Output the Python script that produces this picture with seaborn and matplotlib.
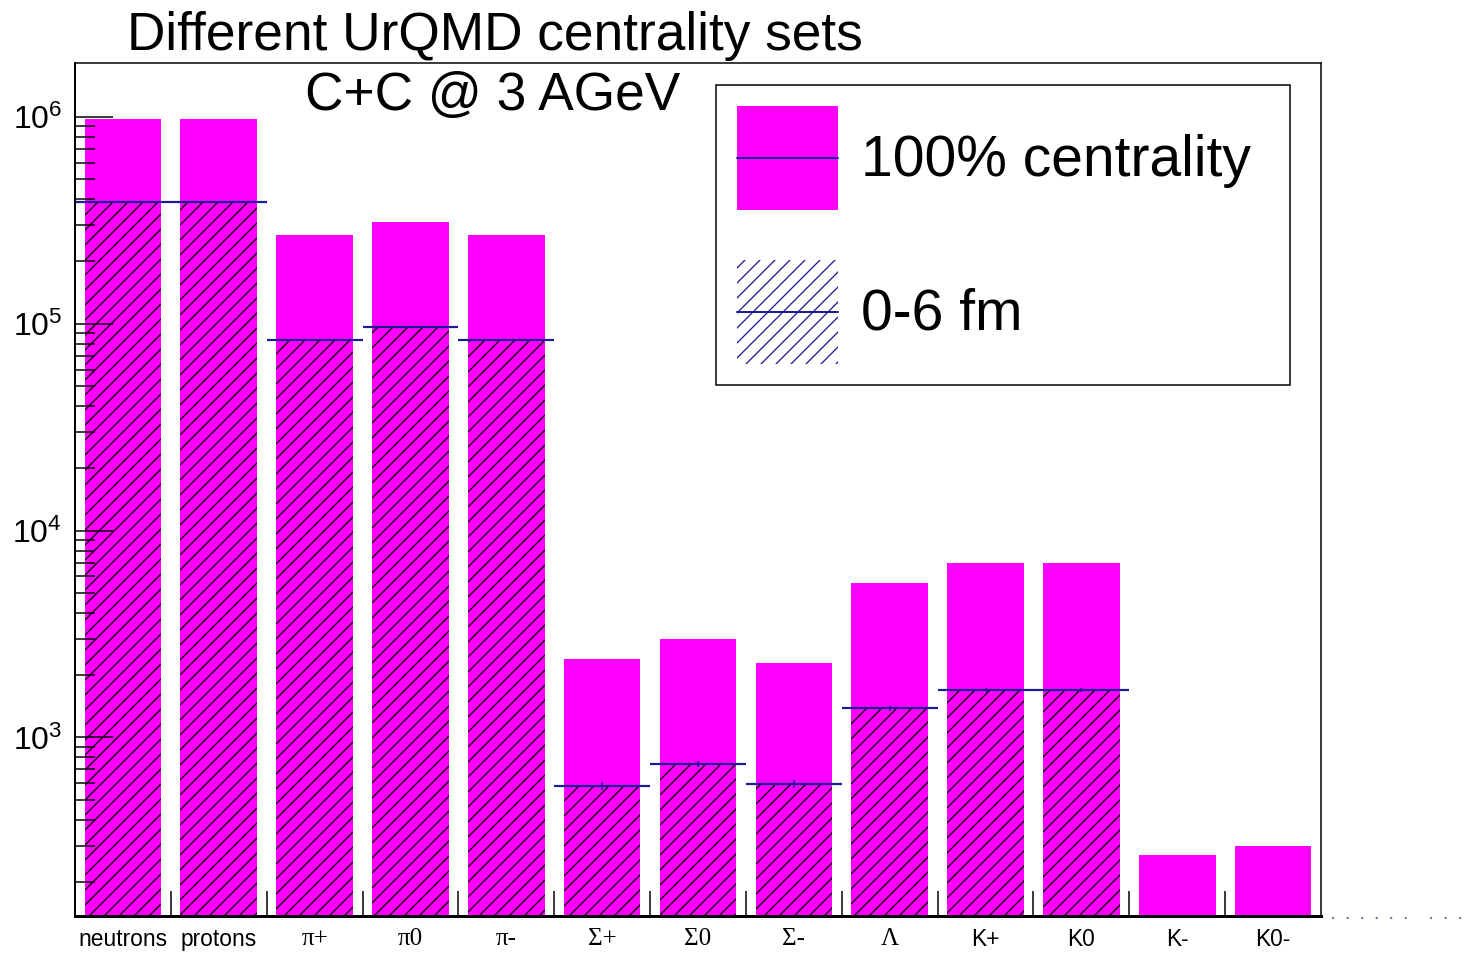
import numpy as np
import pandas as pd
import matplotlib
matplotlib.use("Agg")
import matplotlib.pyplot as plt
import seaborn as sns
from matplotlib.patches import Rectangle
from matplotlib.lines import Line2D
from matplotlib.legend_handler import HandlerBase
from matplotlib.ticker import FixedLocator, LogLocator, NullFormatter, FuncFormatter

# ---------------- data ----------------
particles = ["neutrons", "protons", "π+", "π0", "π-", "Σ+", "Σ0", "Σ-", "Λ",
             "K+", "K0", "K-", "K0-"]
centrality_100 = [9.8e5, 9.8e5, 2.68e5, 3.10e5, 2.68e5, 2390, 2990, 2290, 5580,
                  6970, 6970, 270, 298]
centrality_0_6fm = [3.86e5, 3.86e5, 8.33e4, 9.64e4, 8.33e4, 583, 743, 596, 1386,
                    1694, 1694, 0, 0]
greek_labels = ["π+", "π0", "π-", "Σ+", "Σ0", "Σ-", "Λ"]
title_lines = ["Different UrQMD centrality sets", "C+C @ 3 AGeV"]
legend_labels = ["100% centrality", "0-6 fm"]
y_major = [1e3, 1e4, 1e5, 1e6]

# ---------------- style ----------------
DPI = 90
W, H = 1467, 954


def px(v):
    return v * 72.0 / DPI


sns.set_theme(style="ticks")
plt.rcParams["font.family"] = ["Liberation Sans", "DejaVu Sans"]
plt.rcParams["mathtext.fontset"] = "custom"
plt.rcParams["mathtext.rm"] = "Liberation Sans"
plt.rcParams["mathtext.it"] = "Liberation Sans:italic"
plt.rcParams["mathtext.bf"] = "Liberation Sans:bold"
plt.rcParams["hatch.linewidth"] = px(1.3)
plt.rcParams["axes.axisbelow"] = False

MAGENTA = "#ff00ff"
BLUE = "#1c1c96"
HATCH = "//"

fig = plt.figure(figsize=(W / DPI, H / DPI), dpi=DPI)
fig.patch.set_facecolor("white")
L, R, T, B = 75, 1321, 63, 916
ax = fig.add_axes([L / W, 1 - B / H, (R - L) / W, (B - T) / H])
ax.set_facecolor("white")

df = pd.DataFrame({"particle": particles, "all": centrality_100,
                   "central": centrality_0_6fm})
df_c = df[df["central"] > 0]

sns.barplot(data=df, x="particle", y="all", order=particles, color=MAGENTA,
            saturation=1, width=0.8, linewidth=0, ax=ax)
n_first = len(ax.patches)
sns.barplot(data=df_c, x="particle", y="central", order=particles, color=MAGENTA,
            saturation=1, width=0.8, linewidth=0, ax=ax)
for p in ax.patches[n_first:]:
    p.set_facecolor("none")
    p.set_edgecolor("black")
    p.set_hatch(HATCH)
    p.set_linewidth(0)

ax.set_yscale("log")
ax.set_axisbelow(False)

pos = np.arange(len(particles))
cv = np.array(centrality_0_6fm, dtype=float)
m = cv > 0
ax.hlines(cv[m], pos[m] - 0.5, pos[m] + 0.5, colors=BLUE, lw=px(2.2), zorder=5)
ax.errorbar(pos[m], cv[m], yerr=np.sqrt(cv[m]), fmt="none", ecolor=BLUE,
            elinewidth=px(1.5), capsize=0, zorder=5)

# ---------------- axes ----------------
ax.set_xlim(-0.5, len(particles) - 0.5)
ax.set_ylim(137, 1.82e6)
ax.set_xlabel("")
ax.set_ylabel("")

ax.yaxis.set_major_locator(FixedLocator(y_major))
ax.yaxis.set_minor_locator(LogLocator(base=10, subs=np.arange(2, 10), numticks=100))
ax.yaxis.set_minor_formatter(NullFormatter())
ax.yaxis.set_major_formatter(
    FuncFormatter(lambda v, _: r"$\mathregular{10^{%d}}$" % int(round(np.log10(v)))))
ax.tick_params(axis="y", which="major", direction="in", length=px(38),
               width=px(1.5), pad=px(13), labelsize=px(32), colors="black",
               left=True, right=False)
ax.tick_params(axis="y", which="minor", direction="in", length=px(20),
               width=px(1.5), colors="black", left=True, right=False)

ax.set_xticks(pos)
ax.set_xticklabels(particles)
ax.set_xticks(pos[:-1] + 0.5, minor=True)
ax.tick_params(axis="x", which="major", length=0, pad=px(12),
               labelsize=px(22.7), colors="black")
ax.tick_params(axis="x", which="minor", direction="in", length=px(25),
               width=px(1.5), color="black", bottom=True, top=False)
for lbl in ax.get_xticklabels():
    if lbl.get_text() in greek_labels:
        lbl.set_fontfamily(["Liberation Serif", "DejaVu Serif"])
        lbl.set_fontsize(px(25))

for side in ["top", "right", "left", "bottom"]:
    ax.spines[side].set_visible(True)
    ax.spines[side].set_color("black")
    ax.spines[side].set_zorder(6)
ax.spines["top"].set_linewidth(px(1.5))
ax.spines["right"].set_linewidth(px(1.5))
ax.spines["left"].set_linewidth(px(2))
ax.spines["bottom"].set_linewidth(px(3))

# dotted artefact to the right of the frame
for x0, x1 in [(1.0096, 1.07), (1.088, 1.115)]:
    ax.plot([x0, x1], [-0.002, -0.002], transform=ax.transAxes, clip_on=False,
            color="#6a6a9a", lw=px(2.2), linestyle=(0, (0.1, 6.5)),
            dash_capstyle="round")

# ---------------- titles ----------------
fig.text(495 / W, 1 - 50 / H, title_lines[0], ha="center", va="baseline",
         fontsize=px(53.3), color="black")
fig.text(493 / W, 1 - 110 / H, title_lines[1], ha="center", va="baseline",
         fontsize=px(53.3), color="black")


# ---------------- legend ----------------
class BoxLineHandler(HandlerBase):
    def __init__(self, facecolor, hatch=None, hatchcolor="none"):
        super().__init__()
        self.fc = facecolor
        self.hatch = hatch
        self.hc = hatchcolor

    def create_artists(self, legend, orig_handle, xdescent, ydescent, width,
                       height, fontsize, trans):
        r = Rectangle((-xdescent, -ydescent), width, height, facecolor=self.fc,
                      edgecolor=self.hc, hatch=self.hatch, linewidth=0,
                      transform=trans)
        y = -ydescent + height / 2.0
        ln = Line2D([-xdescent, -xdescent + width], [y, y], color=BLUE,
                    lw=px(2), transform=trans)
        return [r, ln]


h1 = ax.patches[0]
h2 = ax.patches[n_first]
leg_fs = 57.0
leg = ax.legend(
    [h1, h2], legend_labels,
    handler_map={h1: BoxLineHandler(MAGENTA),
                 h2: BoxLineHandler("none", HATCH, BLUE)},
    loc="upper left",
    bbox_to_anchor=(0.5144, 0.60, 0.4607, 0.3742),
    mode="expand", borderaxespad=0,
    fontsize=px(leg_fs),
    handlelength=101 / leg_fs, handleheight=2.43,
    handletextpad=0.40, labelspacing=0.88, borderpad=0.37,
    frameon=True, fancybox=False, shadow=False, framealpha=1,
)
leg.get_frame().set_edgecolor("black")
leg.get_frame().set_linewidth(px(1.5))
for t in leg.get_texts():
    t.set_color("black")

fig.savefig("out.png", dpi=DPI, facecolor="white")
